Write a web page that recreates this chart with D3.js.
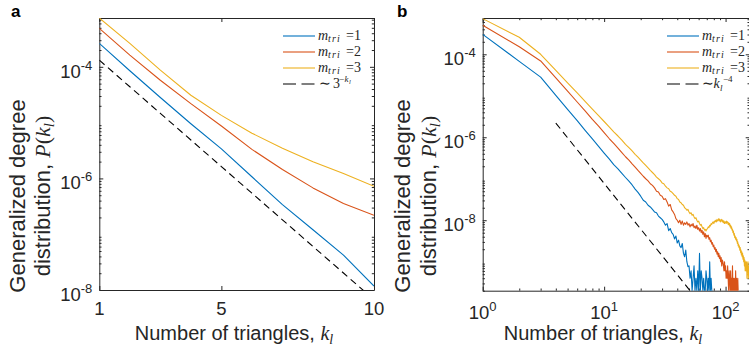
<!DOCTYPE html>
<html>
<head>
<meta charset="utf-8">
<script src="https://cdn.jsdelivr.net/npm/d3@7"></script>
<style>
  body { margin: 0; background: #fff; }
  svg { display: block; }
</style>
</head>
<body>
<svg id="chart" width="749" height="351"></svg>
<script>
// ---- data (values are log10 P(k_l)) ----
const kA = [1, 2, 3, 4, 5, 6, 7, 8, 9, 10];
const logA1 = [-3.58, -4.07, -4.55, -5.02, -5.47, -5.97, -6.47, -6.92, -7.375, -7.93];
const logA2 = [-3.31, -3.79, -4.24, -4.66, -5.06, -5.48, -5.84, -6.17, -6.45, -6.66];
const logA3 = [-3.125, -3.58, -4.06, -4.51, -4.87, -5.19, -5.46, -5.70, -5.91, -6.14];
const logAref = [-3.88, -4.357, -4.834, -5.311, -5.788, -6.265, -6.742, -7.219, -7.696, -8.173];

const logB1 = [-3.52, -4.17, -4.55, -4.99, -5.33, -5.60, -5.84, -6.04, -6.22, -6.38,
  -6.52, -6.66, -6.76, -6.87, -6.97, -7.06, -7.15, -7.25, -7.33, -7.42,
  -7.52, -7.56, -7.64, -7.68, -7.74, -7.80, -7.82, -7.90, -7.94, -7.98,
  -8.04, -8.12, -8.08, -8.25, -8.20, -8.30, -8.34, -8.45, -8.38, -8.55,
  -8.48, -8.62, -8.66, -8.56, -8.80, -8.88, -8.72, -9.00, -9.12, -9.10,
  -9.40, -9.22, -9.70, -9.40, -9.10, -9.70, -9.40, -9.70, -9.22, -9.70,
  -8.80, -9.70, -9.22, -9.40, -9.70, -9.40, -9.70, -9.70, -9.22, -9.40,
  -9.70, -9.40, -9.70, -9.00, -9.70, -9.40, -9.70, -9.70];
const logB2 = [-3.30, -3.82, -4.16, -4.57, -4.89, -5.15, -5.37, -5.57, -5.73, -5.89,
  -6.03, -6.15, -6.26, -6.37, -6.47, -6.55, -6.64, -6.72, -6.80, -6.87,
  -6.94, -7.00, -7.05, -7.12, -7.16, -7.22, -7.30, -7.32, -7.40, -7.42,
  -7.50, -7.48, -7.56, -7.66, -7.62, -7.75, -7.80, -7.86, -7.96, -8.00,
  -8.06, -8.00, -8.10, -8.02, -8.12, -8.06, -8.10, -8.04, -8.12, -8.08,
  -8.16, -8.10, -8.14, -8.08, -8.18, -8.14, -8.20, -8.12, -8.22, -8.18,
  -8.26, -8.20, -8.30, -8.24, -8.34, -8.28, -8.40, -8.32, -8.44, -8.36,
  -8.40, -8.36, -8.46, -8.42, -8.52, -8.48, -8.58, -8.54, -8.64, -8.60,
  -8.70, -8.66, -8.76, -8.70, -8.82, -8.76, -8.88, -8.80, -8.92, -8.86,
  -9.00, -8.90, -9.10, -8.96, -9.00, -9.10, -9.22, -9.00, -9.22, -9.10,
  -9.40, -9.22, -9.40, -9.10, -9.40, -9.70, -9.22, -9.40, -9.70, -9.22,
  -9.70, -9.40, -9.70, -9.10, -9.70, -9.40, -9.70, -9.40, -9.70, -9.70,
  -9.22, -9.70, -9.40, -9.70, -9.70, -9.40, -9.70];
const logB3 = [-3.14, -3.59, -4.00, -4.39, -4.69, -4.93, -5.14, -5.32, -5.48, -5.62,
  -5.75, -5.87, -5.97, -6.07, -6.17, -6.25, -6.33, -6.41, -6.48, -6.55,
  -6.62, -6.68, -6.74, -6.80, -6.85, -6.90, -6.96, -7.00, -7.04, -7.10,
  -7.12, -7.18, -7.22, -7.24, -7.30, -7.32, -7.36, -7.40, -7.42, -7.48,
  -7.50, -7.56, -7.58, -7.62, -7.64, -7.70, -7.72, -7.76, -7.74, -7.80,
  -7.84, -7.82, -7.88, -7.86, -7.92, -7.96, -7.94, -8.00, -8.04, -8.02,
  -8.08, -8.12, -8.10, -8.16, -8.20, -8.18, -8.24, -8.22, -8.26, -8.22,
  -8.20, -8.16, -8.18, -8.12, -8.14, -8.08, -8.10, -8.06, -8.04, -8.08,
  -8.02, -8.04, -8.00, -8.04, -7.98, -8.02, -8.00, -7.96, -8.02, -7.98,
  -8.04, -8.00, -7.98, -8.04, -8.00, -8.06, -8.02, -8.08, -8.04, -8.04,
  -8.08, -8.02, -8.06, -8.04, -8.10, -8.06, -8.12, -8.08, -8.16, -8.12,
  -8.20, -8.16, -8.24, -8.22, -8.30, -8.26, -8.36, -8.32, -8.42, -8.38,
  -8.46, -8.42, -8.50, -8.46, -8.56, -8.52, -8.62, -8.58, -8.66, -8.62,
  -8.72, -8.66, -8.78, -8.72, -8.84, -8.76, -8.88, -8.80, -8.94, -8.86,
  -9.00, -8.90, -9.10, -8.96, -9.22, -9.00, -9.10, -9.22, -9.00, -9.40,
  -9.10, -9.22, -9.00, -9.40, -9.10];
// dashed guide in panel b: end points
const kBref = [4, 51];
const pBref = [2.2e-6, 2.0e-10];

const legendA = ["1", "2", "3"];
const colors = ["#0072BD", "#D95319", "#EDB120"];

const ink = "#262626";
const sans = "Liberation Sans, Arial, sans-serif";
const serif = "Liberation Serif, Times New Roman, serif";
const svg = d3.select("#chart");

function toPts(ks, logs) {
  return logs.map((v, i) => ({ k: ks ? ks[i] : i + 1, p: Math.pow(10, v) }));
}

// ---- scales ----
const xa = d3.scaleLinear().domain([1, 10]).range([99.3, 374]);
const ya = d3.scaleLog().domain([1e-8, 7.5e-4]).range([290, 18]);
const xb = d3.scaleLog().domain([1, 158]).range([482.7, 749.7]);
const yb = d3.scaleLog().domain([2e-10, 7.5e-4]).range([290.7, 18]);

function minorLog(scale) {
  const [a, b] = scale.domain();
  const out = [];
  for (let e = Math.floor(Math.log10(a)); e <= Math.ceil(Math.log10(b)); e++) {
    for (let m = 2; m <= 9; m++) {
      const v = m * Math.pow(10, e);
      if (v >= a && v <= b) out.push(v);
    }
  }
  return out;
}

function frame(id, x, y, xMajor, xMinor, yMajor, yMinor) {
  const g = svg.append("g").attr("id", id);
  const [x0, x1] = x.range();
  const [y0, y1] = y.range();
  const clip = "clip-" + id;
  svg.append("clipPath").attr("id", clip)
    .append("rect").attr("x", x0).attr("y", y1).attr("width", x1 - x0).attr("height", y0 - y1);

  const sides = [
    [() => d3.axisBottom(x), "translate(0," + y0 + ")", xMajor, xMinor],
    [() => d3.axisTop(x), "translate(0," + y1 + ")", xMajor, xMinor],
    [() => d3.axisLeft(y), "translate(" + x0 + ",0)", yMajor, yMinor],
    [() => d3.axisRight(y), "translate(" + x1 + ",0)", yMajor, yMinor]
  ];
  sides.forEach(([mk, tr, major, minor]) => {
    g.append("g").attr("transform", tr)
      .call(mk().tickValues(major).tickFormat("").tickSizeInner(-4).tickSizeOuter(0))
      .call(s => s.select(".domain").attr("stroke", ink))
      .call(s => s.selectAll(".tick line").attr("stroke", ink));
    if (minor.length) {
      g.append("g").attr("transform", tr)
        .call(mk().tickValues(minor).tickFormat("").tickSizeInner(-2.2).tickSizeOuter(0))
        .call(s => s.select(".domain").remove())
        .call(s => s.selectAll(".tick line").attr("stroke", ink));
    }
  });
  return { g, clip };
}

function drawSeries(fr, x, y, pts, color, dash) {
  const line = d3.line().x(d => x(d.k)).y(d => y(d.p));
  fr.g.append("path")
    .datum(pts)
    .attr("clip-path", "url(#" + fr.clip + ")")
    .attr("fill", "none")
    .attr("stroke", color)
    .attr("stroke-width", 1.1)
    .attr("stroke-dasharray", dash || null)
    .attr("stroke-linejoin", "round")
    .attr("d", line);
}

function yTickLabels(x, y, vals, exps) {
  vals.forEach((v, i) => {
    const t = svg.append("text")
      .attr("x", x.range()[0] - 7).attr("y", y(v) + 11)
      .attr("text-anchor", "end")
      .attr("font-family", sans)
      .attr("font-size", 18.5).attr("fill", ink);
    t.append("tspan").text("10");
    t.append("tspan").attr("dy", -8).attr("font-size", 13).text(exps[i]);
  });
}

// a text made of positioned pieces [dx, dy, text, size, italic]
function pieces(g, x0, y0, parts) {
  const t = g.append("text").attr("font-family", serif).attr("fill", ink);
  parts.forEach(([dx, dy, txt, size, it, ls]) => {
    t.append("tspan").attr("x", x0 + dx).attr("y", y0 + dy)
      .attr("font-size", size).attr("font-style", it ? "italic" : "normal")
      .attr("letter-spacing", ls || null).text(txt);
  });
  return t;
}

function legend(x0, y0, labels, refParts) {
  const g = svg.append("g");
  const tx = x0 + 35;
  labels.forEach((l, i) => {
    const yy = y0 + i * 16;
    g.append("line").attr("x1", x0).attr("x2", x0 + 32).attr("y1", yy).attr("y2", yy)
      .attr("stroke", colors[i]).attr("stroke-width", 1.1);
    pieces(g, tx, yy + 3.8, [
      [0, 0, "m", 14, true],
      [10, 2, "tri", 10, true, 1.2],
      [28, 0, "=", 14, false],
      [36, 0, l, 14, false]
    ]);
  });
  const yy = y0 + 3 * 16;
  g.append("line").attr("x1", x0).attr("x2", x0 + 32).attr("y1", yy).attr("y2", yy)
    .attr("stroke", "#000").attr("stroke-width", 1.1).attr("stroke-dasharray", "13,5.5");
  pieces(g, tx, yy + 3.8, refParts);
}

function axisTitles(cx, yl1, yl2, cy) {
  svg.append("text")
    .attr("x", cx).attr("y", 340)
    .attr("text-anchor", "middle")
    .attr("font-family", sans)
    .attr("font-size", 20).attr("fill", ink)
    .call(t => {
      t.append("tspan").text("Number of triangles, ");
      t.append("tspan").attr("font-family", serif).attr("font-style", "italic").text("k");
      t.append("tspan").attr("font-family", serif).attr("font-style", "italic")
        .attr("font-size", 14).attr("dy", 4).text("l");
    });
  svg.append("text")
    .attr("transform", "translate(" + yl1 + "," + cy + ") rotate(-90)")
    .attr("text-anchor", "middle")
    .attr("font-family", sans)
    .attr("font-size", 22).attr("fill", ink)
    .text("Generalized degree");
  svg.append("text")
    .attr("transform", "translate(" + yl2 + "," + cy + ") rotate(-90)")
    .attr("text-anchor", "middle")
    .attr("font-family", sans)
    .attr("font-size", 22).attr("fill", ink)
    .call(t => {
      t.append("tspan").text("distribution, ");
      t.append("tspan").attr("font-family", serif).attr("font-style", "italic").text("P");
      t.append("tspan").attr("font-family", serif).text("(");
      t.append("tspan").attr("font-family", serif).attr("font-style", "italic").text("k");
      t.append("tspan").attr("font-family", serif).attr("font-style", "italic")
        .attr("font-size", 15).attr("dy", 4).text("l");
      t.append("tspan").attr("font-family", serif).attr("dy", -4).text(")");
    });
}

// Step 1: frames
const fa = frame("pa", xa, ya, [1, 5, 10], [], [1e-8, 1e-6, 1e-4], minorLog(ya));
const fb = frame("pb", xb, yb, [1, 10, 100], minorLog(xb), [1e-8, 1e-6, 1e-4], minorLog(yb));

// Step 2: curves
[logA1, logA2, logA3].forEach((s, i) => drawSeries(fa, xa, ya, toPts(kA, s), colors[i]));
drawSeries(fa, xa, ya, toPts(kA, logAref), "#000", "7,4.5");

[logB1, logB2, logB3].forEach((s, i) => drawSeries(fb, xb, yb, toPts(null, s), colors[i]));
drawSeries(fb, xb, yb, kBref.map((k, i) => ({ k: k, p: pBref[i] })), "#000", "7,4.5");

// Step 3: tick labels
yTickLabels(xa, ya, [1e-4, 1e-6, 1e-8], ["-4", "-6", "-8"]);
yTickLabels(xb, yb, [1e-4, 1e-6, 1e-8], ["-4", "-6", "-8"]);

[1, 5, 10].forEach(v => {
  svg.append("text").attr("x", xa(v)).attr("y", 315).attr("text-anchor", "middle")
    .attr("font-family", sans).attr("font-size", 18.5)
    .attr("fill", ink).text(v);
});
[[1, "0"], [10, "1"], [100, "2"]].forEach(([v, e]) => {
  const t = svg.append("text").attr("x", xb(v)).attr("y", 319).attr("text-anchor", "middle")
    .attr("font-family", sans).attr("font-size", 18.5).attr("fill", ink);
  t.append("tspan").text("10");
  t.append("tspan").attr("dy", -8).attr("font-size", 13).text(e);
});

// Step 4: legends
legend(283, 36, legendA, [
  [1, 0, "\u223C", 14, false],
  [15, 0, "3", 14, false],
  [21, -5.5, "\u2212", 9, false],
  [26.5, -5.5, "k", 9, true],
  [31, -4, "l", 6.5, true]
]);
legend(667, 36, legendA, [
  [0, 0, "\u223C", 14, false],
  [11.5, 0, "k", 14, true],
  [18, 3, "l", 9, true],
  [21, -5.5, "\u22124", 9, false]
]);

// Step 5: axis titles and panel letters
axisTitles(234, 25.4, 50.4, 196);
axisTitles(603, 409.6, 436, 196);

svg.append("text").attr("x", 11).attr("y", 17)
  .attr("font-family", sans).attr("font-weight", "bold")
  .attr("font-size", 17).attr("fill", "#000").text("a");
svg.append("text").attr("x", 397).attr("y", 17)
  .attr("font-family", sans).attr("font-weight", "bold")
  .attr("font-size", 17).attr("fill", "#000").text("b");
</script>
</body>
</html>
